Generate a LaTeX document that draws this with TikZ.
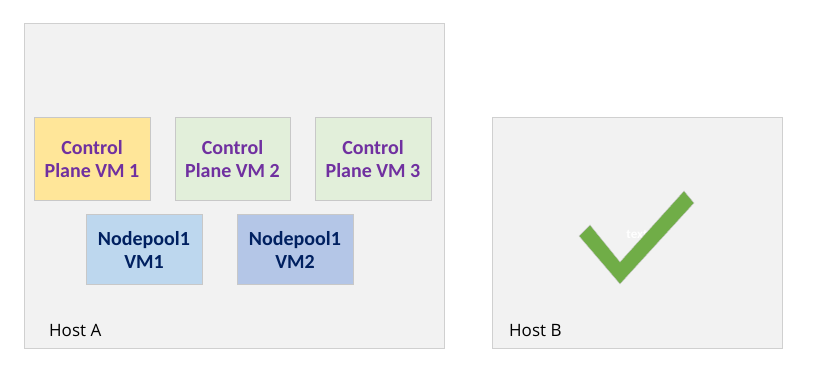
\documentclass[tikz,border=0pt]{standalone}
\usepackage{fontspec}
\setmainfont{Carlito}
\newfontfamily\hostfont{Open Sans}
\definecolor{hostfill}{HTML}{F2F2F2}
\definecolor{hostline}{HTML}{D0D0D0}
\definecolor{boxline}{HTML}{C8C8C8}
\definecolor{cpgold}{HTML}{FFE699}
\definecolor{cpgreen}{HTML}{E2EFDA}
\definecolor{npblue}{HTML}{BDD7EE}
\definecolor{npblue2}{HTML}{B4C6E7}
\definecolor{cppurple}{HTML}{7030A0}
\definecolor{npnavy}{HTML}{002060}
\definecolor{checkgreen}{HTML}{70AD47}
\begin{document}
\begin{tikzpicture}[x=1pt,y=-1pt,
  hostbox/.style={draw=hostline,fill=hostfill,line width=1pt},
  vmbox/.style={draw=boxline,line width=1pt},
  cptext/.style={align=center,text=cppurple,font=\fontsize{20}{23}\selectfont\bfseries,inner sep=0pt},
  nptext/.style={align=center,text=npnavy,font=\fontsize{20}{23}\selectfont\bfseries,inner sep=0pt},
  hostlabel/.style={anchor=base west,font=\hostfont\fontsize{17}{20}\selectfont,text=black,inner sep=0pt}]
\useasboundingbox (0,0) rectangle (831,390);
% hosts
\draw[hostbox] (24,24) rectangle (444,349);
\draw[hostbox] (492,118) rectangle (782,349);
\node[hostlabel] (hostA) at (49,336.5) {Host A};
\node[hostlabel] (hostB) at (509,336.5) {Host B};
% control plane VMs
\draw[vmbox,fill=cpgold] (34,118) rectangle (150,201);
\node[cptext] (cp1) at (92,159.5) {Control\\Plane VM 1};
\draw[vmbox,fill=cpgreen] (175,118) rectangle (290,201);
\node[cptext] (cp2) at (232.5,159.5) {Control\\Plane VM 2};
\draw[vmbox,fill=cpgreen] (315,118) rectangle (431,201);
\node[cptext] (cp3) at (373,159.5) {Control\\Plane VM 3};
% nodepool VMs
\draw[vmbox,fill=npblue] (86,215) rectangle (202,285);
\node[nptext] (np1) at (144,250) {Nodepool1\\VM1};
\draw[vmbox,fill=npblue2] (237,215) rectangle (353,285);
\node[nptext] (np2) at (295,250) {Nodepool1\\VM2};
% hidden text and check mark
\node[text=white,font=\fontsize{13}{15}\selectfont\bfseries,inner sep=0pt] (hidden) at (637,234) {text};
\fill[checkgreen,draw=boxline,line width=0.4pt] (579,236) -- (590,225) -- (620,262) -- (684,191) -- (694,203) -- (620,284) -- cycle;
\end{tikzpicture}
\end{document}
